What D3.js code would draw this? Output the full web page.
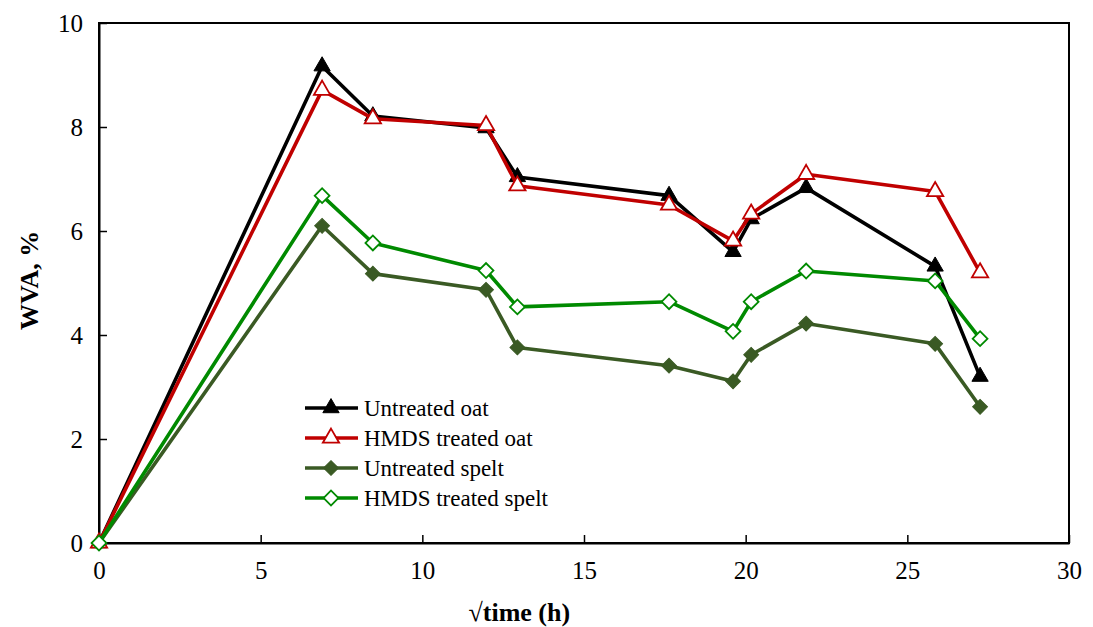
<!DOCTYPE html>
<html>
<head>
<meta charset="utf-8">
<script src="https://cdn.jsdelivr.net/npm/d3@7"></script>
<style>
  body { margin: 0; background: #fff; }
  svg text { font-family: "Liberation Serif", "Times New Roman", Times, "Nimbus Roman", "DejaVu Serif", serif !important; }
</style>
</head>
<body>
<svg id="chart"></svg>
<script>
const width = 1093, height = 627;
const margin = { top: 23, right: 24, bottom: 84, left: 99 };

// sqrt(time) values shared by all series
const sqrtTime = [0, 6.9, 8.47, 11.97, 12.94, 17.63, 19.61, 20.17, 21.87, 25.86, 27.25];

const untreatedOat = [0, 9.17, 8.21, 7.98, 7.04, 6.68, 5.6, 6.23, 6.83, 5.32, 3.2];
const hmdsOat = [0, 8.71, 8.16, 8.03, 6.87, 6.5, 5.81, 6.33, 7.09, 6.76, 5.2];
const untreatedSpelt = [0, 6.1, 5.18, 4.87, 3.76, 3.41, 3.11, 3.62, 4.22, 3.83, 2.62];
const hmdsSpelt = [0, 6.68, 5.77, 5.24, 4.54, 4.64, 4.07, 4.64, 5.23, 5.04, 3.93];

const xTicks = [0, 5, 10, 15, 20, 25, 30];
const yTicks = [0, 2, 4, 6, 8, 10];

const series = [
    { name: "Untreated oat", values: untreatedOat, color: "#000000", marker: "triangle", filled: true },
    { name: "HMDS treated oat", values: hmdsOat, color: "#C00000", marker: "triangle", filled: false },
    { name: "Untreated spelt", values: untreatedSpelt, color: "#3A5A24", marker: "diamond", filled: true },
    { name: "HMDS treated spelt", values: hmdsSpelt, color: "#008A00", marker: "diamond", filled: false }
];

const svg = d3.select("#chart").attr("width", width).attr("height", height);

const x = d3.scaleLinear().domain([0, 30]).range([margin.left, width - margin.right]);
const y = d3.scaleLinear().domain([0, 10]).range([height - margin.bottom, margin.top]);

// frame
svg.append("rect")
    .attr("x", x(0)).attr("y", y(10))
    .attr("width", x(30) - x(0)).attr("height", y(0) - y(10))
    .attr("fill", "none").attr("stroke", "#000").attr("stroke-width", 2);

const xAxis = d3.axisBottom(x).tickValues(xTicks).tickSizeInner(-8).tickSizeOuter(0).tickPadding(18);
const yAxis = d3.axisLeft(y).tickValues(yTicks).tickSizeInner(-8).tickSizeOuter(0).tickPadding(16);

svg.append("g")
    .attr("transform", `translate(0, ${y(0)})`)
    .call(xAxis)
    .call(g => g.select(".domain").attr("stroke-width", 2))
    .call(g => g.selectAll(".tick line").attr("stroke-width", 1.5))
    .call(g => g.selectAll("text").attr("font-size", 25).attr("fill", "#000"));

svg.append("g")
    .attr("transform", `translate(${x(0)}, 0)`)
    .call(yAxis)
    .call(g => g.select(".domain").attr("stroke-width", 2))
    .call(g => g.selectAll(".tick line").attr("stroke-width", 1.5))
    .call(g => g.selectAll("text").attr("font-size", 25).attr("fill", "#000"));

// axis titles
svg.append("text")
    .attr("x", x(13)).attr("y", 621)
    .attr("text-anchor", "middle")
    .attr("font-size", 26).attr("font-weight", "bold")
    .text("√time (h)");

svg.append("text")
    .attr("transform", `translate(38, ${y(5.05)}) rotate(-90)`)
    .attr("text-anchor", "middle")
    .attr("font-size", 26).attr("font-weight", "bold")
    .text("WVA, %");

const line = d3.line()
    .x((d, i) => x(sqrtTime[i]))
    .y(d => y(d));

function markerPath(type) {
    if (type === "triangle") return d3.symbol().type(d3.symbolTriangle).size(115)();
    return d3.symbol().type(d3.symbolSquare).size(110)();
}

function drawMarker(g, s, px, py) {
    g.append("path")
        .attr("d", markerPath(s.marker))
        .attr("transform", s.marker === "diamond" ? `translate(${px},${py}) rotate(45)` : `translate(${px},${py})`)
        .attr("fill", s.filled ? s.color : "#fff")
        .attr("stroke", s.color)
        .attr("stroke-width", s.filled ? 1 : 1.8);
}

series.forEach(s => {
    const g = svg.append("g");
    g.append("path")
        .datum(s.values)
        .attr("d", line)
        .attr("fill", "none")
        .attr("stroke", s.color)
        .attr("stroke-width", 3.6)
        .attr("stroke-linejoin", "round");
    s.values.forEach((v, i) => drawMarker(g, s, x(sqrtTime[i]), y(v)));
});

// legend
const legend = svg.append("g");
series.forEach((s, i) => {
    const ly = 408 + i * 30;
    const row = legend.append("g");
    row.append("line")
        .attr("x1", 305).attr("x2", 358)
        .attr("y1", ly).attr("y2", ly)
        .attr("stroke", s.color).attr("stroke-width", 3.6);
    drawMarker(row, s, 331, ly);
    row.append("text")
        .attr("x", 364).attr("y", ly + 8)
        .attr("font-size", 23)
        .text(s.name);
});
</script>
</body>
</html>
